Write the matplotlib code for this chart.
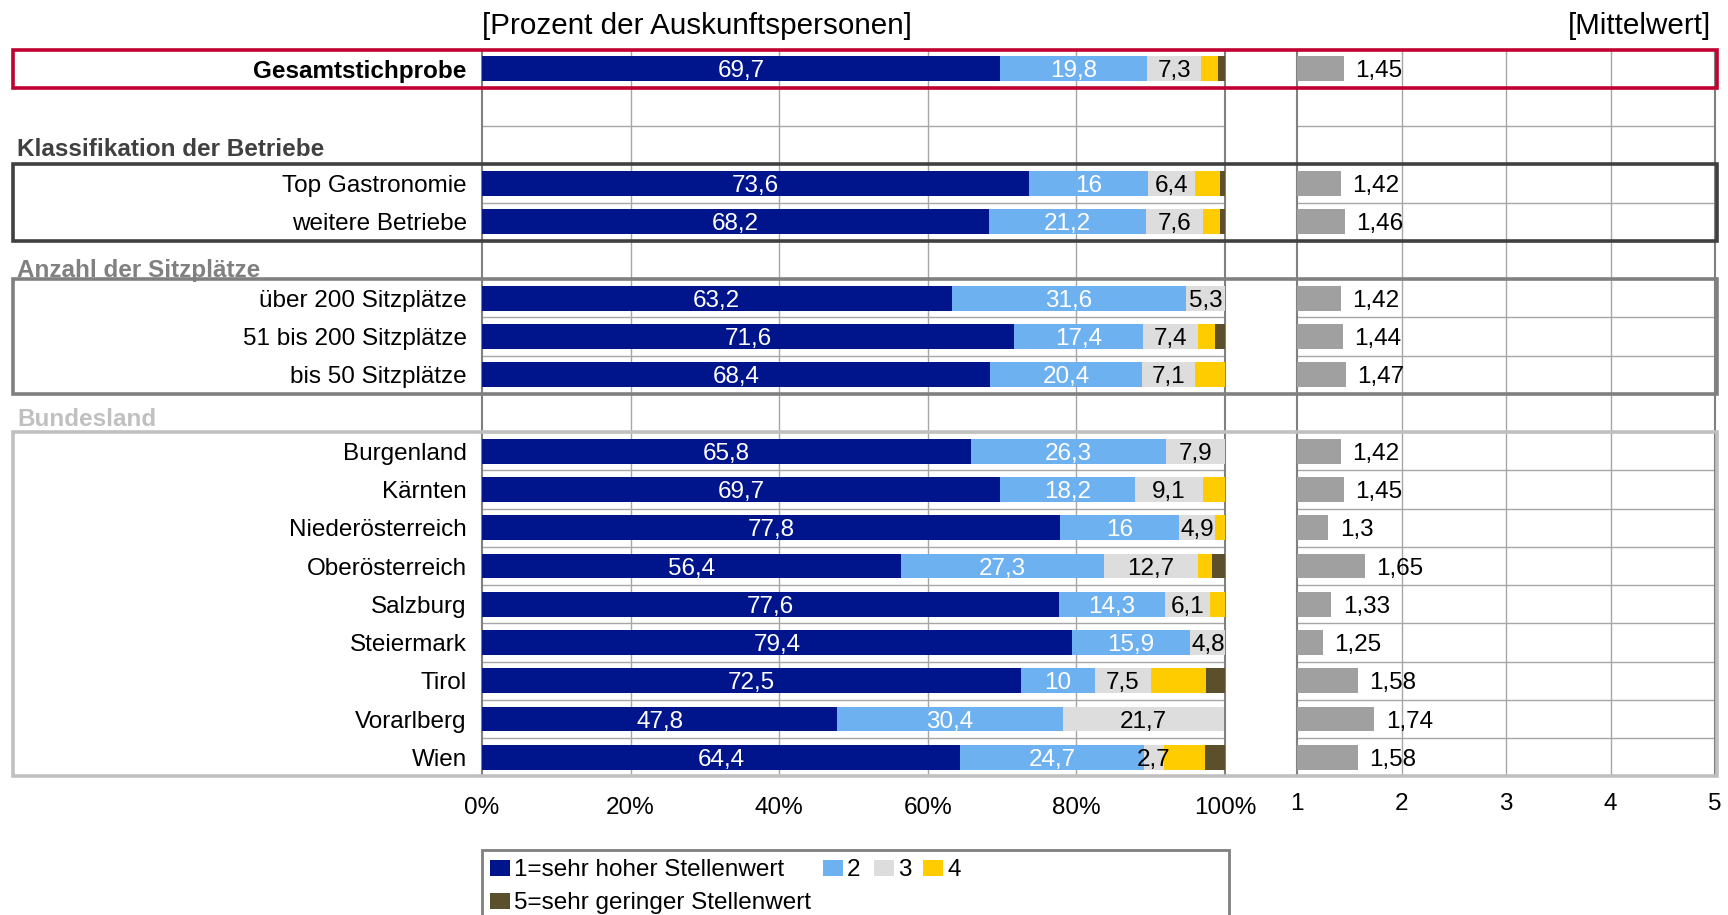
import matplotlib
matplotlib.use("Agg")
import matplotlib.pyplot as plt
import matplotlib.transforms as mtransforms
from matplotlib.patches import Rectangle
import numpy as np

plt.rcParams['font.family'] = ['Liberation Sans', 'DejaVu Sans']

# Data
categories = ["Gesamtstichprobe",
              "Top Gastronomie", "weitere Betriebe",
              "über 200 Sitzplätze", "51 bis 200 Sitzplätze", "bis 50 Sitzplätze",
              "Burgenland", "Kärnten", "Niederösterreich", "Oberösterreich",
              "Salzburg", "Steiermark", "Tirol", "Vorarlberg", "Wien"]
s1 = [69.7, 73.6, 68.2, 63.2, 71.6, 68.4, 65.8, 69.7, 77.8, 56.4, 77.6, 79.4, 72.5, 47.8, 64.4]
s2 = [19.8, 16.0, 21.2, 31.6, 17.4, 20.4, 26.3, 18.2, 16.0, 27.3, 14.3, 15.9, 10.0, 30.4, 24.7]
s3 = [7.3, 6.4, 7.6, 5.3, 7.4, 7.1, 7.9, 9.1, 4.9, 12.7, 6.1, 4.8, 7.5, 21.7, 2.7]
s4 = [2.2, 3.3, 2.3, 0.0, 2.2, 4.1, 0.0, 3.0, 1.3, 1.9, 2.0, 0.0, 7.5, 0.0, 5.5]
s5 = [1.0, 0.7, 0.7, 0.0, 1.4, 0.0, 0.0, 0.0, 0.0, 1.7, 0.0, 0.0, 2.5, 0.0, 2.7]
means = [1.45, 1.42, 1.46, 1.42, 1.44, 1.47, 1.42, 1.45, 1.3, 1.65, 1.33, 1.25, 1.58, 1.74, 1.58]

group_titles = ["", "Klassifikation der Betriebe", "Anzahl der Sitzplätze", "Bundesland"]
group_sizes = [1, 2, 3, 9]
legend_labels = ["1=sehr hoher Stellenwert", "2", "3", "4", "5=sehr geringer Stellenwert"]

seg_colors = ['#00148C', '#6EB1F0', '#DDDDDD', '#FFCC00', '#5C4F2C']
seg_text = ['white', 'white', 'black', None, None]
group_colors = ['#C00030', '#404040', '#808080', '#C0C0C0']
mean_color = '#A0A0A0'
grid_color = '#A6A6A6'

# row positions: first group, one empty row, then header row + items per group
positions = []
header_pos = []
group_rows = []
row = 0
for g, n in enumerate(group_sizes):
    if g == 1:
        row += 1
    if g > 0:
        header_pos.append(row)
        row += 1
    group_rows.append((row, n))
    positions.extend(range(row, row + n))
    row += n
n_rows = row
positions = np.array(positions)

W, H = 1728, 915
fig = plt.figure(figsize=(W / 100, H / 100), dpi=100)
ax_top = 49.6
ax_bot = 776.4
ax1 = fig.add_axes([482 / W, 1 - ax_bot / H, 743 / W, (ax_bot - ax_top) / H])
ax2 = fig.add_axes([1297 / W, 1 - ax_bot / H, 418 / W, (ax_bot - ax_top) / H])

fs = 17.5
va = 'center_baseline'

def fmt(v, nd=1):
    s = ("%.*f" % (nd, v)).rstrip('0').rstrip('.')
    return s.replace('.', ',')

bh = 0.65
left = np.zeros(len(categories))
for k, seg in enumerate([s1, s2, s3, s4, s5]):
    seg = np.array(seg)
    ax1.barh(positions, seg, left=left, height=bh, color=seg_colors[k], zorder=3)
    if seg_text[k] is not None:
        for p, l, v in zip(positions, left, seg):
            ax1.text(l + v / 2, p, fmt(v), ha='center', va=va,
                     color=seg_text[k], fontsize=fs, zorder=4)
    left = left + seg

means_arr = np.array(means)
ax2.barh(positions, means_arr - 1, left=1, height=bh, color=mean_color, zorder=3)
for p, v in zip(positions, means_arr):
    ax2.text(v + 0.11, p, fmt(v, 2), ha='left', va=va, fontsize=fs, zorder=4)

for ax in (ax1, ax2):
    ax.set_ylim(n_rows - 0.5, -0.5)
    for y in np.arange(0.5, n_rows - 0.5, 1):
        ax.axhline(y, color=grid_color, lw=1, zorder=1)
    ax.spines['top'].set_visible(False)
    ax.spines['bottom'].set_visible(False)
    ax.spines['right'].set_color('#808080')
    ax.spines['left'].set_color('#808080')
    ax.spines['right'].set_linewidth(1.5)
    ax.spines['left'].set_linewidth(1.5)
    ax.tick_params(axis='x', length=0, labelsize=fs)

ax1.set_xlim(0, 100)
ax1.set_xticks(range(0, 101, 20), ["%d%%" % t for t in range(0, 101, 20)])
ax1.tick_params(axis='x', pad=14.5)
for t in range(20, 100, 20):
    ax1.axvline(t, color=grid_color, lw=1, zorder=1)
ax1.set_yticks(positions, categories)
ax1.tick_params(axis='y', length=0, pad=11, labelsize=fs)
for lab in ax1.get_yticklabels():
    lab.set_verticalalignment(va)
ax1.get_yticklabels()[0].set_fontweight('bold')

ax2.set_xlim(1, 5)
ax2.set_xticks(range(1, 6), [str(t) for t in range(1, 6)])
ax2.tick_params(axis='x', pad=12)
for t in range(2, 5):
    ax2.axvline(t, color=grid_color, lw=1, zorder=1)
ax2.set_yticks([])

# group headers and boxes
blend = mtransforms.blended_transform_factory(fig.transFigure, ax1.transData)
header_offsets = [0.05, 0.2, 0.1]
for g, (start, n) in enumerate(group_rows):
    rect = Rectangle((13 / W, start - 0.5), (1717 - 13) / W, n, transform=blend,
                     fill=False, edgecolor=group_colors[g], lw=2.6, zorder=10, clip_on=False)
    fig.add_artist(rect)
for g, hp in enumerate(header_pos):
    fig.text(17 / W, hp + header_offsets[g], group_titles[g + 1], transform=blend,
             ha='left', va=va, fontsize=fs, fontweight='bold',
             color=group_colors[g + 1])

# titles
fig.text(482 / W, 1 - 23 / H, "[Prozent der Auskunftspersonen]", ha='left', va=va,
         fontsize=21.3)
fig.text(1711 / W, 1 - 23 / H, "[Mittelwert]", ha='right', va=va, fontsize=21.3)

# legend (frame runs past the bottom edge)
fig.add_artist(Rectangle((482 / W, 1 - 935 / H), (1229 - 482) / W, (935 - 850) / H,
                         fill=False, edgecolor='#808080', lw=2, clip_on=False))
leg_items = [(490, 868), (823, 868), (874, 868), (923, 868), (490, 901)]
for (x, y), lab, c in zip(leg_items, legend_labels, seg_colors):
    fig.add_artist(Rectangle((x / W, 1 - (y + 8) / H), 20 / W, 16 / H,
                             facecolor=c, edgecolor='none'))
    fig.text((x + 24) / W, 1 - y / H, lab, ha='left', va=va, fontsize=fs)

fig.savefig('out.png', dpi=100)
